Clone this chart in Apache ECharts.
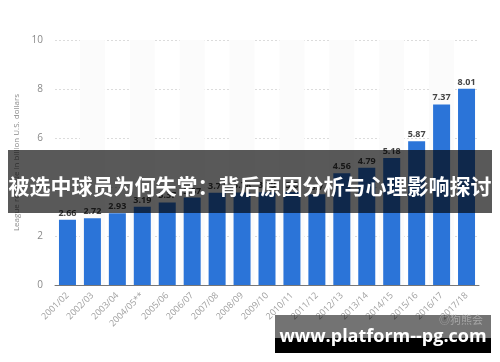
<!DOCTYPE html>
<html><head><meta charset="utf-8">
<script src="https://cdn.jsdelivr.net/npm/echarts@6/dist/echarts.min.js"></script>
<style>html,body{margin:0;padding:0;background:#fff}#c{width:500px;height:362px}</style>
</head><body><div id="c"></div>
<script>
const categories = ['2001/02','2002/03','2003/04','2004/05**','2005/06','2006/07','2007/08','2008/09','2009/10','2010/11','2011/12','2012/13','2013/14','2014/15','2015/16','2016/17','2017/18'];
const revenue = [2.66, 2.72, 2.93, 3.19, 3.37, 3.57, 3.77, 3.78, 3.79, 3.8, 3.7, 4.56, 4.79, 5.18, 5.87, 7.37, 8.01];
const yTicks = [0, 2, 4, 6, 8, 10];
const yAxisName = 'League revenue in billion U.S. dollars';
const bannerTitle = '被选中球员为何失常：背后原因分析与心理影响探讨';
const siteText = 'www.platform--pg.com';
const markText = '◎狗熊会';

const chart = echarts.init(document.getElementById('c'), null, {renderer: 'canvas'});
chart.setOption({
  animation: false,
  backgroundColor: '#fff',
  grid: {left: 55, right: 21, top: 40, bottom: 77, containLabel: false},
  xAxis: {
    type: 'category',
    data: categories,
    axisLine: {lineStyle: {color: '#777', width: 1}},
    axisTick: {show: false},
    splitArea: {show: true, areaStyle: {color: ['rgba(255,255,255,0)', '#fbfbfb']}},
    axisLabel: {rotate: 45, fontSize: 9, color: '#a0a0a0', margin: 9, interval: 0, fontFamily: 'Open Sans'}
  },
  yAxis: {
    type: 'value',
    min: yTicks[0],
    max: yTicks[yTicks.length - 1],
    interval: 2,
    name: yAxisName,
    nameLocation: 'middle',
    nameGap: 23,
    nameTextStyle: {fontSize: 8, color: '#8a8a8a', fontFamily: 'Open Sans'},
    axisLine: {show: false},
    axisTick: {show: false},
    splitLine: {lineStyle: {color: '#dcdcdc', type: [2, 2]}},
    axisLabel: {fontSize: 10, color: '#8a8a8a', margin: 12, fontFamily: 'Open Sans'}
  },
  series: [{
    type: 'bar',
    data: revenue,
    barWidth: 17,
    itemStyle: {color: '#2b74d8'},
    label: {show: true, position: 'top', distance: 2, fontSize: 9, fontWeight: 'bold', color: '#444', fontFamily: 'Open Sans'}
  }],
  graphic: [
    {type: 'rect', shape: {x: 8, y: 150, width: 484, height: 63}, style: {fill: 'rgba(0,0,0,0.65)'}, z: 100},
    {type: 'text', x: 250, y: 186, style: {text: bannerTitle, fill: '#fff', font: 'bold 21px "Noto Sans CJK SC"', textAlign: 'center', textVerticalAlign: 'middle'}, z: 101},
    {type: 'rect', shape: {x: 275, y: 315, width: 216, height: 23}, style: {fill: 'rgba(0,0,0,0.55)'}, z: 100},
    {type: 'rect', shape: {x: 275, y: 338, width: 216, height: 15}, style: {fill: '#000'}, z: 100},
    {type: 'text', x: 483, y: 320, style: {text: markText, fill: 'rgba(200,200,200,0.6)', font: '11px "Noto Sans CJK SC"', textAlign: 'right', textVerticalAlign: 'middle'}, z: 101},
    {type: 'text', x: 383, y: 337, style: {text: siteText, fill: '#fff', font: 'bold 18px "Open Sans"', textAlign: 'center', textVerticalAlign: 'middle'}, z: 102}
  ]
});
</script></body></html>
